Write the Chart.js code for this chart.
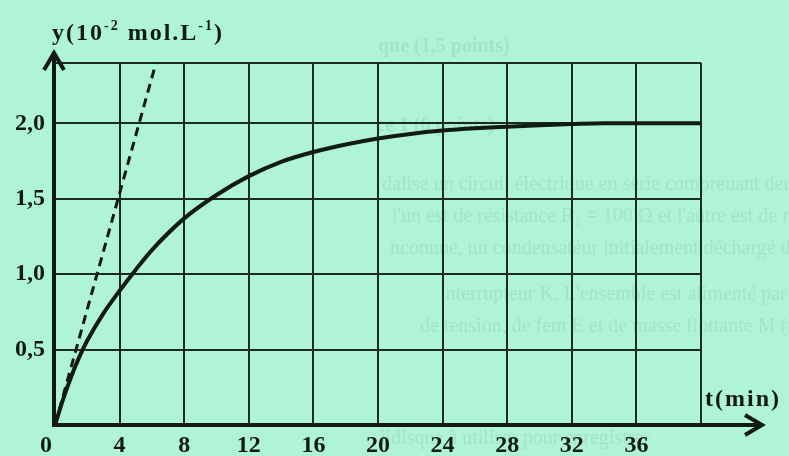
<!DOCTYPE html>
<html>
<head>
<meta charset="utf-8">
<script src="https://cdn.jsdelivr.net/npm/chart.js@4.4.1/dist/chart.umd.min.js"></script>
<style>
  html, body { margin: 0; padding: 0; background: #aff4d8; }
  #wrap { position: relative; width: 789px; height: 456px; }
</style>
</head>
<body>
<div id="wrap"><canvas id="chart"></canvas></div>
<script>
// values
const TIME_MIN = [0, 0.5, 1, 1.5, 2, 3, 4, 5, 6, 8, 10, 12, 14, 16, 18, 20, 22, 24, 26, 28, 30, 32, 34, 36, 40];
const CONC = [0, 0.17, 0.32, 0.45, 0.56, 0.74, 0.89, 1.03, 1.16, 1.37, 1.525, 1.65, 1.745, 1.81, 1.86, 1.9, 1.93, 1.952, 1.967, 1.978, 1.988, 1.995, 2.0, 2.0, 2.0];

const TANGENT_T = [0, 6.25];
const TANGENT_Y = [0, 2.4];

const X_TICKS = [0, 4, 8, 12, 16, 20, 24, 28, 32, 36, 40];
const X_LABELS = ["0   ", "4", "8", "12", "16", "20", "24", "28", "32", "36", ""];
const Y_TICKS = [0, 0.5, 1.0, 1.5, 2.0, 2.4];
const Y_LABELS = ["", "0,5", "1,0", "1,5", "2,0", ""];

// faint show-through text from the printed page
const GHOST_LINES = [
  ["que (1,5 points)", 378, 52, true],
  ["ce 1 (6 points)", 376, 131, true],
  ["dalise un circuit électrique en série comprenant deux résistors", 382, 190, false],
  ["l'un est de résistance R\u2081 = 100 \u03a9 et l'autre est de résistance", 392, 222, false],
  ["nconnue, un condensateur initialement déchargé de capacité C", 390, 254, false],
  ["interrupteur K. L'ensemble est alimenté par un générateur", 440, 300, false],
  ["de tension, de fem E et de masse flottante M (figure 2).", 420, 332, false],
  ["lidisque à utiliser pour enregistrer", 380, 444, false],
];

const INK = "#111a15";
const GRID = "#1c2a22";
const SERIF = "'Liberation Serif', 'Times New Roman', serif";

const ghostText = {
  id: "ghostText",
  beforeDraw(chart) {
    const ctx = chart.ctx;
    ctx.save();
    ctx.fillStyle = "rgba(60,90,80,0.11)";
    ctx.textBaseline = "alphabetic";
    for (const [text, x, y, bold] of GHOST_LINES) {
      ctx.font = (bold ? "bold " : "") + "20px " + SERIF;
      ctx.fillText(text, x, y);
    }
    ctx.restore();
  },
};

const axesArrows = {
  id: "axesArrows",
  afterDatasetsDraw(chart) {
    const { ctx, chartArea } = chart;
    const x0 = chartArea.left - 1;
    const y0 = chartArea.bottom;
    ctx.save();
    ctx.strokeStyle = INK;
    ctx.lineWidth = 4;
    ctx.lineCap = "butt";
    ctx.lineJoin = "miter";
    // x axis
    const xTip = 762;
    ctx.beginPath();
    ctx.moveTo(x0 - 2, y0);
    ctx.lineTo(xTip, y0);
    ctx.stroke();
    ctx.beginPath();
    ctx.moveTo(xTip - 17, y0 - 10);
    ctx.lineTo(xTip, y0);
    ctx.lineTo(xTip - 17, y0 + 10);
    ctx.stroke();
    // y axis
    const yTip = 53;
    ctx.beginPath();
    ctx.moveTo(x0, y0 + 2);
    ctx.lineTo(x0, yTip);
    ctx.stroke();
    ctx.beginPath();
    ctx.moveTo(x0 - 10, yTip + 17);
    ctx.lineTo(x0, yTip);
    ctx.lineTo(x0 + 10, yTip + 17);
    ctx.stroke();

    // axis titles
    ctx.fillStyle = INK;
    ctx.textBaseline = "alphabetic";
    ctx.letterSpacing = "2px";
    const big = "bold 24px " + SERIF;
    const sup = "bold 14px " + SERIF;
    let x = 52;
    const base = 40;
    const parts = [["y(10", big, 0], ["-2", sup, -10], [" mol.L", big, 0], ["-1", sup, -10], [")", big, 0]];
    for (const [t, f, dy] of parts) {
      ctx.font = f;
      ctx.fillText(t, x, base + dy);
      x += ctx.measureText(t).width;
    }
    ctx.font = big;
    ctx.fillText("t(min)", 705, 406);
    ctx.restore();
  },
};

new Chart(document.getElementById("chart"), {
  type: "line",
  data: {
    datasets: [
      {
        label: "y",
        data: TIME_MIN.map((t, i) => ({ x: t, y: CONC[i] })),
        borderColor: INK,
        borderWidth: 4,
        pointRadius: 0,
        cubicInterpolationMode: "monotone",
        fill: false,
      },
      {
        label: "tangente",
        data: TANGENT_T.map((t, i) => ({ x: t, y: TANGENT_Y[i] })),
        borderColor: INK,
        borderWidth: 3,
        borderDash: [9, 6],
        pointRadius: 0,
        fill: false,
      },
    ],
  },
  options: {
    responsive: true,
    maintainAspectRatio: false,
    animation: false,
    events: [],
    layout: { padding: { top: 63, right: 88, left: 0, bottom: 0 } },
    plugins: { legend: { display: false }, tooltip: { enabled: false } },
    scales: {
      x: {
        type: "linear",
        min: 0,
        max: 40,
        afterBuildTicks: (s) => { s.ticks = X_TICKS.map((v) => ({ value: v })); },
        afterFit: (s) => { s.height = 31; },
        grid: { color: GRID, lineWidth: 2, drawTicks: false },
        border: { display: false },
        ticks: {
          autoSkip: false,
          maxRotation: 0,
          padding: 6,
          color: INK,
          font: { family: SERIF, size: 24, weight: "bold" },
          callback: (v, i) => X_LABELS[i],
        },
      },
      y: {
        min: 0,
        max: 2.4,
        afterBuildTicks: (s) => { s.ticks = Y_TICKS.map((v) => ({ value: v })); },
        afterFit: (s) => { s.width = 55; },
        grid: { color: GRID, lineWidth: 2, drawTicks: false },
        border: { display: false },
        ticks: {
          autoSkip: false,
          padding: 10,
          color: INK,
          font: { family: SERIF, size: 24, weight: "bold" },
          callback: (v, i) => Y_LABELS[i],
        },
      },
    },
  },
  plugins: [ghostText, axesArrows],
});
</script>
</body>
</html>
